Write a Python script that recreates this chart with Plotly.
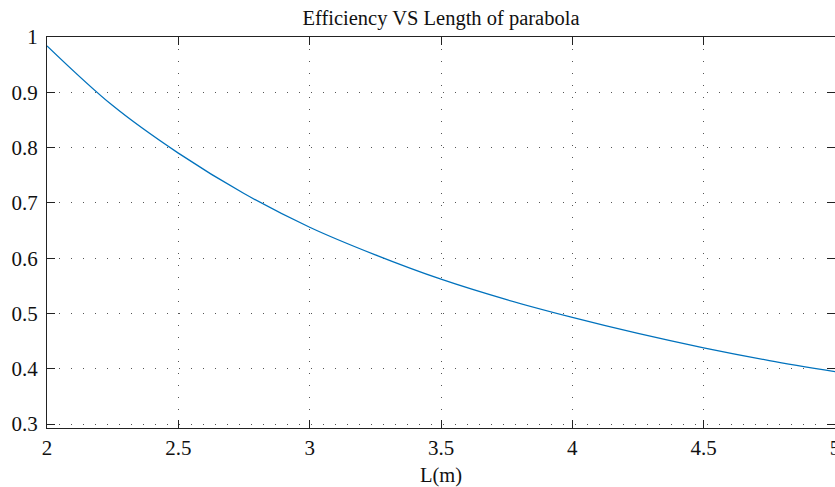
import plotly.graph_objects as go

length_m = [2.0, 2.25, 2.5, 2.75, 3.0, 3.25, 3.5, 3.75, 4.0, 4.25, 4.5, 4.75, 5.0]
efficiency = [0.984, 0.876, 0.790, 0.717, 0.656, 0.606, 0.562, 0.525, 0.493, 0.464,
              0.438, 0.415, 0.395]

x_ticks = [2, 2.5, 3, 3.5, 4, 4.5, 5]
x_tick_labels = ["2", "2.5", "3", "3.5", "4", "4.5", "5"]
y_ticks = [0.3, 0.4, 0.5, 0.6, 0.7, 0.8, 0.9, 1.0]
y_tick_labels = ["0.3", "0.4", "0.5", "0.6", "0.7", "0.8", "0.9", "1"]

FONT = "Liberation Serif, Times New Roman, serif"

fig = go.Figure()
fig.add_trace(go.Scatter(x=length_m, y=efficiency, mode="lines",
                         line=dict(color="#0072BD", width=1.3, shape="spline", smoothing=1.0),
                         showlegend=False, hoverinfo="x+y"))

W, H = 835, 487
left, right, top, bottom = 47, 0, 37, 59

fig.update_layout(
    width=W, height=H,
    margin=dict(l=left, r=right, t=top, b=bottom, autoexpand=False),
    paper_bgcolor="white", plot_bgcolor="white",
    font=dict(family=FONT, size=20, color="#111"),
    title=dict(text="Efficiency VS Length of parabola", x=(left + W) / 2 / W, xanchor="center",
               xref="container", yref="container", y=1 - 18 / H, yanchor="middle",
               font=dict(family=FONT, size=20.5, color="#111")),
    xaxis=dict(range=[2, 5], tickvals=x_ticks, ticktext=x_tick_labels,
               showline=True, linecolor="#222", linewidth=1, mirror="ticks",
               ticks="inside", ticklen=8, tickcolor="#222",
               showgrid=True, gridcolor="#555", gridwidth=1, griddash="1px,11px",
               zeroline=False, ticklabelstandoff=1, ticklabeloverflow="allow",
               title=dict(text="L(m)", standoff=25, font=dict(family=FONT, size=20.5)),
               tickfont=dict(family=FONT, size=21)),
    yaxis=dict(range=[0.293, 1.0], tickvals=y_ticks, ticktext=y_tick_labels,
               showline=True, linecolor="#222", linewidth=1, mirror="ticks",
               ticks="inside", ticklen=8, tickcolor="#222",
               showgrid=True, gridcolor="#555", gridwidth=1, griddash="1px,11px",
               zeroline=False, ticklabelstandoff=4,
               tickfont=dict(family=FONT, size=21)),
)

fig.write_html("out.html")
